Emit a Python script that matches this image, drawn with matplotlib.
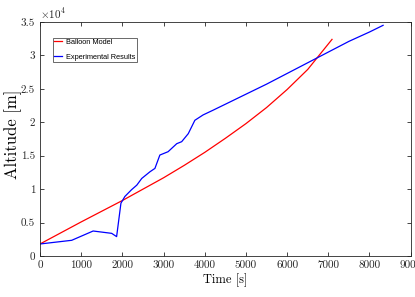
import numpy as np
import matplotlib
matplotlib.use('Agg')
from matplotlib import pyplot as plt

plt.rcParams['mathtext.fontset']='cm'
plt.rcParams['font.family']='serif'
plt.rcParams['font.serif']=['cmr10','DejaVu Serif']
plt.rcParams['axes.formatter.use_mathtext']=True

# Balloon model (red)
model_t=[0,500,1000,1500,2000,2500,3000,3500,4000,4500,5000,5500,6000,6500,7090]
model_alt=[1800,3450,5100,6700,8300,10000,11700,13550,15500,17600,19800,22200,24900,27900,32400]

# Experimental results (blue)
exp_t=[0,770,1290,1740,1860,1965,2060,2220,2350,2470,2670,2790,2910,3110,3320,3440,3600,3760,3960,4200,
       4500,5000,5500,6000,6750,7500,8000,8330]
exp_alt=[1800,2350,3740,3390,2900,7900,8900,9900,10600,11600,12600,13100,15100,15600,16800,17100,18300,20300,21100,21800,
         22700,24200,25700,27300,29700,32100,33500,34500]

xticks=[0,1000,2000,3000,4000,5000,6000,7000,8000,9000]
yticks=[0,5000,10000,15000,20000,25000,30000,35000]
yticklabels=['0','0.5','1','1.5','2','2.5','3','3.5']

fig=plt.figure(figsize=(4.15,2.97),dpi=100)
ax=fig.add_axes([0.0964,0.138,0.8932,0.788])

ax.plot(model_t,model_alt,color='#ff0000',lw=0.9,label='Balloon Model')
ax.plot(exp_t,exp_alt,color='#0000ff',lw=0.9,label='Experimental Results')

ax.set_xlim(0,9000)
ax.set_ylim(0,35000)
ax.set_xticks(xticks)
ax.set_xticklabels([str(v) for v in xticks])
ax.set_yticks(yticks)
ax.set_yticklabels(yticklabels)
ax.tick_params(direction='in',top=True,right=True,length=3,width=0.6,colors='#262626',labelsize=8,labelcolor='#262626')
for s in ax.spines.values():
    s.set_color('#262626')
    s.set_linewidth(0.6)

ax.text(0.0,1.005,r'$\times10^4$',transform=ax.transAxes,fontsize=8,color='#262626',va='bottom',ha='left')

ax.set_xlabel('Time [s]',fontsize=9,labelpad=2)
ax.set_ylabel('Altitude [m]',fontsize=12)
ax.yaxis.set_label_coords(-0.072,0.52)
ax.yaxis.label.set_va('center')

leg=ax.legend(loc='upper left',bbox_to_anchor=(0.036,0.933),frameon=True,fancybox=False,
              handlelength=1.0,handletextpad=0.6,borderpad=0.15,borderaxespad=0,labelspacing=1.05,
              prop={'family':'Liberation Sans','size':5.3})
leg.get_frame().set_edgecolor('#262626')
leg.get_frame().set_linewidth(0.6)

fig.savefig('out.png',dpi=100)
